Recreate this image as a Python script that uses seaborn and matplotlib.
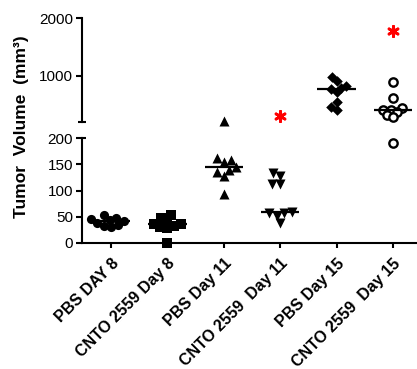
import numpy as np
import pandas as pd
import matplotlib
matplotlib.use("Agg")
import matplotlib.pyplot as plt
import seaborn as sns

# ---------------- data ----------------
groups = ["PBS DAY 8", "CNTO 2559 Day 8", "PBS Day 11",
          "CNTO 2559  Day 11", "PBS Day 15", "CNTO 2559  Day 15"]
pbs_d8 = [53, 48, 45, 44, 42, 38, 35, 33, 31]
cnto_d8 = [54, 48, 42, 37, 36, 33, 30, 28, 0]
pbs_d11 = [210, 162, 158, 154, 145, 139, 135, 128, 93]
cnto_d11 = [133, 128, 112, 112, 59, 57, 57, 51, 38]
pbs_d15 = [983, 914, 828, 793, 776, 724, 552, 466, 414]
cnto_d15 = [897, 621, 450, 414, 414, 379, 328, 293, 190]
series = [pbs_d8, cnto_d8, pbs_d11, cnto_d11, pbs_d15, cnto_d15]
markers = ["o", "s", "^", "v", "D", "o"]
open_marker = [False, False, False, False, False, True]
sig_groups = ["CNTO 2559  Day 11", "CNTO 2559  Day 15"]
sig_y = [310, 1776]
lower_ticks = [0, 50, 100, 150, 200]
upper_ticks = [1000, 2000]
break_value = 200
upper_max = 2000
ylabel = "Tumor  Volume  (mm\u00b3)"

# ---------------- style ----------------
sns.set_style("ticks")
plt.rcParams["font.family"] = ["Liberation Sans", "DejaVu Sans"]
for k in ["text.color", "axes.labelcolor", "xtick.color", "ytick.color", "axes.edgecolor"]:
    plt.rcParams[k] = "black"

W, H = 417, 369
fig = plt.figure(figsize=(W / 100, H / 100), dpi=100)


def rect(l, t, r, b):
    return [l / W, 1 - b / H, (r - l) / W, (b - t) / H]


ax_lo = fig.add_axes(rect(82, 138, 417, 243))
ax_hi = fig.add_axes(rect(82, 18, 417, 122))

sizes = {"o": 6.6, "s": 6.6, "^": 7.2, "v": 7.2, "D": 5.4}
packing = 0.76  # swarm laid out with smaller markers so points overlap like the original
swarms = []

for i, (name, vals, mk, is_open) in enumerate(zip(groups, series, markers, open_marker)):
    vals = np.asarray(vals, dtype=float)
    for ax, mask in ((ax_lo, vals <= break_value), (ax_hi, vals > break_value)):
        if not mask.any():
            continue
        df = pd.DataFrame({"group": [name] * int(mask.sum()), "value": vals[mask]})
        n_before = len(ax.collections)
        disp = 6.0 if is_open else sizes[mk]
        sns.swarmplot(data=df, x="group", y="value", order=groups, marker=mk,
                      color="black", size=disp * packing, linewidth=0,
                      ax=ax, clip_on=False, zorder=2)
        new = list(ax.collections)[n_before:]
        swarms.append((ax, new, disp, mk, is_open))
    med = np.median(vals)
    target = ax_lo if med <= break_value else ax_hi
    target.hlines(med, i - 0.34, i + 0.34, color="black", lw=1.6, zorder=3)

# significance asterisks
ax_hi.scatter([groups.index(g) for g in sig_groups], sig_y, marker=(6, 2, 0),
              s=55, color="red", linewidths=2.0, zorder=4, clip_on=False)

xl = (-0.514, 5.426)
for ax in (ax_lo, ax_hi):
    ax.set_xlim(*xl)
    ax.set_xlabel("")
    ax.set_ylabel("")
    ax.spines["top"].set_visible(False)
    ax.spines["right"].set_visible(False)
    ax.spines["left"].set_linewidth(1.5)
    ax.spines["bottom"].set_linewidth(1.5)
    ax.tick_params(axis="y", length=4.3, width=1.5, pad=2, labelsize=11)

ax_lo.set_ylim(0, break_value)
ax_lo.set_yticks(lower_ticks)
ax_lo.tick_params(axis="x", length=3.6, width=1.5, pad=5.5)
ax_lo.set_xticks(range(len(groups)))
ax_lo.set_xticklabels(groups, rotation=45, ha="right", va="top",
                      rotation_mode="anchor", fontweight="bold", fontsize=11.5)

ax_hi.set_ylim(break_value, upper_max)
ax_hi.set_yticks(upper_ticks)
ax_hi.spines["bottom"].set_visible(False)
ax_hi.tick_params(axis="x", bottom=False, labelbottom=False)

# break caps
cap = 4 / 335
ax_hi.plot([-cap, cap], [0, 0], transform=ax_hi.transAxes, color="black",
           lw=1.5, clip_on=False, solid_capstyle="butt")
ax_lo.plot([0, cap], [1, 1], transform=ax_lo.transAxes, color="black",
           lw=1.5, clip_on=False, solid_capstyle="butt")

fig.text(22 / W, 1 - 127 / H, ylabel, rotation=90, ha="center", va="center",
         fontweight="bold", fontsize=12.5)

# lay out the swarms once, then redraw the laid-out points with full-size markers
fig.canvas.draw()
for ax, colls, disp, mk, is_open in swarms:
    pcs = [c for c in colls if c.__class__.__name__ == "PathCollection"]
    pts = [np.asarray(c.get_offsets()) for c in pcs if np.asarray(c.get_offsets()).size]
    for c in pcs:
        c.remove()
    if not pts:
        continue
    offs = np.vstack(pts)
    if is_open:
        ax.scatter(offs[:, 0], offs[:, 1], s=disp ** 2, marker=mk, facecolors="white",
                   edgecolors="black", linewidths=1.7, zorder=2, clip_on=False)
    else:
        ax.scatter(offs[:, 0], offs[:, 1], s=disp ** 2, marker=mk, color="black",
                   linewidths=0, zorder=2, clip_on=False)

fig.savefig("out.png", dpi=100)
